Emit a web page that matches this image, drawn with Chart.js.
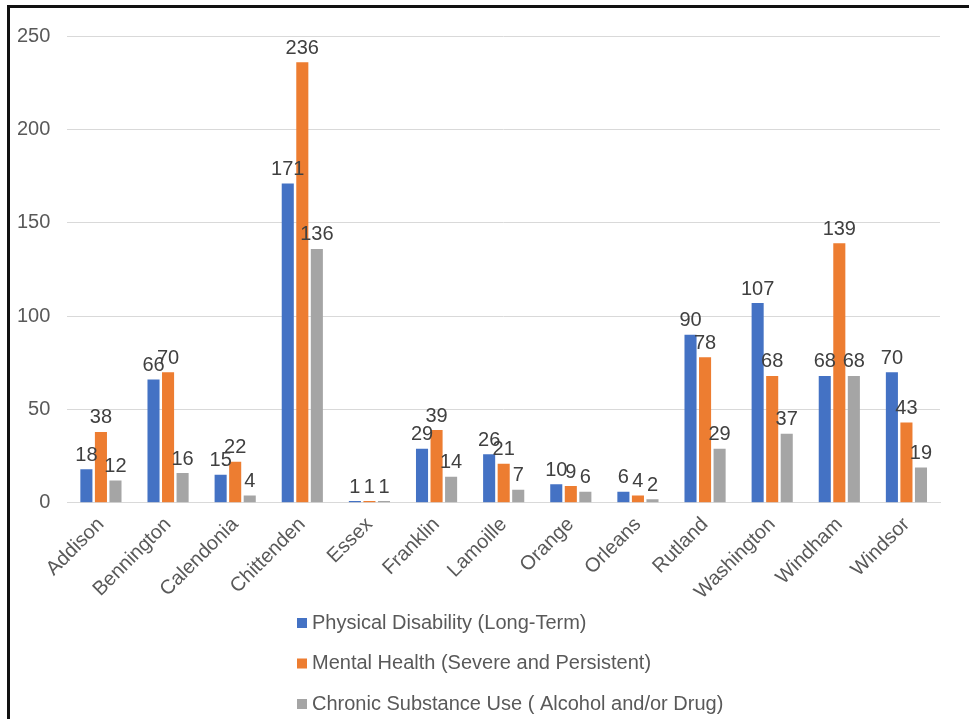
<!DOCTYPE html>
<html>
<head>
<meta charset="utf-8">
<script src="https://cdn.jsdelivr.net/npm/chart.js@4/dist/chart.umd.min.js"></script>
<style>
  html, body { margin: 0; padding: 0; background: #fff; }
  #wrap { position: relative; width: 969px; height: 719px; overflow: hidden; }
  #frame { position: absolute; left: 7px; top: 5px; right: -5px; bottom: -5px;
           border-left: 3px solid #111; border-top: 3px solid #111; }
  #chart-box { position: absolute; left: 0; top: 0; width: 969px; height: 719px; }
</style>
</head>
<body>
<div id="wrap">
  <div id="frame"></div>
  <div id="chart-box"><canvas id="county-chart" width="969" height="719"></canvas></div>
</div>
<script>
const counties = ["Addison", "Bennington", "Calendonia", "Chittenden", "Essex", "Franklin",
    "Lamoille", "Orange", "Orleans", "Rutland", "Washington", "Windham", "Windsor"];
const physical = [18, 66, 15, 171, 1, 29, 26, 10, 6, 90, 107, 68, 70];
const mental = [38, 70, 22, 236, 1, 39, 21, 9, 4, 78, 68, 139, 43];
const substance = [12, 16, 4, 136, 1, 14, 7, 6, 2, 29, 37, 68, 19];
const series_names = ["Physical Disability (Long-Term)", "Mental Health (Severe and Persistent)",
    "Chronic Substance Use ( Alcohol and/or Drug)"];
const series_colors = ["#4472C4", "#ED7D31", "#A5A5A5"];

const FONT = "'Liberation Sans', Arial, sans-serif";

// value labels above every bar
const bar_labels = {
    id: "barLabels",
    afterDatasetsDraw(chart) {
        const ctx = chart.ctx;
        ctx.save();
        ctx.font = "20px " + FONT;
        ctx.fillStyle = "#404040";
        ctx.textAlign = "center";
        ctx.textBaseline = "bottom";
        chart.data.datasets.forEach((ds, i) => {
            chart.getDatasetMeta(i).data.forEach((bar, j) => {
                ctx.fillText(String(ds.data[j]), bar.x, bar.y - 4);
            });
        });
        ctx.restore();
    }
};

// legend as a vertical list under the axis labels
const stacked_legend = {
    id: "stackedLegend",
    afterDraw(chart) {
        const ctx = chart.ctx;
        ctx.save();
        ctx.font = "20px " + FONT;
        ctx.textBaseline = "middle";
        chart.data.datasets.forEach((ds, i) => {
            const y = 623 + i * 40.5;
            ctx.fillStyle = ds.backgroundColor;
            ctx.fillRect(297, y - 5, 10, 10);
            ctx.fillStyle = "#595959";
            ctx.fillText(ds.label, 312, y);
        });
        ctx.restore();
    }
};

const chart_el = document.getElementById("county-chart");
new Chart(chart_el, {
    type: "bar",
    data: {
        labels: counties,
        datasets: [physical, mental, substance].map((vals, i) => ({
            label: series_names[i],
            data: vals,
            backgroundColor: series_colors[i],
            categoryPercentage: 0.65,
            barPercentage: 0.83
        }))
    },
    options: {
        responsive: false,
        animation: false,
        layout: { padding: { left: 0, right: 29, top: 36, bottom: 113 } },
        plugins: {
            legend: { display: false },
            tooltip: { enabled: false }
        },
        scales: {
            x: {
                grid: { display: false },
                border: { display: true, color: "#d9d9d9" },
                ticks: {
                    color: "#595959",
                    font: { family: FONT, size: 20 },
                    minRotation: 45,
                    maxRotation: 45,
                    padding: 2
                },
                afterFit(scale) {
                    scale.paddingLeft = 0;
                }
            },
            y: {
                min: 0,
                max: 250,
                border: { display: false },
                grid: { color: "#d9d9d9", drawTicks: false },
                ticks: {
                    stepSize: 50,
                    color: "#595959",
                    font: { family: FONT, size: 20 },
                    padding: 17
                }
            }
        }
    },
    plugins: [bar_labels, stacked_legend]
});
</script>
</body>
</html>
